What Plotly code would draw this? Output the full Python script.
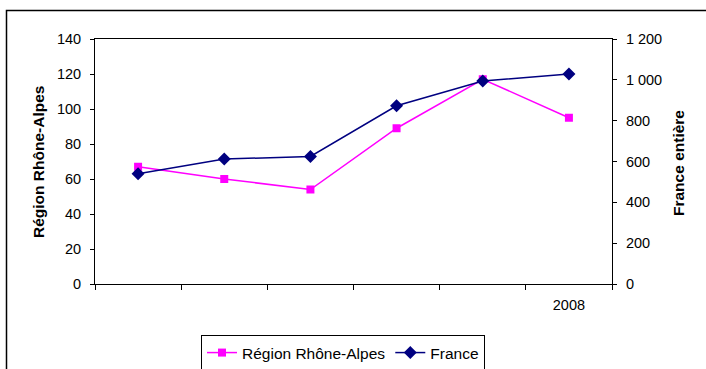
import plotly.graph_objects as go

# ---- data ----
categories = [0, 1, 2, 3, 4, 5]
category_labels = ["", "", "", "", "", "2008"]
rhone_alpes = [67, 60, 54, 89, 117, 95]
france = [540, 612, 625, 873, 994, 1028]

left_ticks = [0, 20, 40, 60, 80, 100, 120, 140]
left_tick_labels = ["0", "20", "40", "60", "80", "100", "120", "140"]
right_ticks = [0, 200, 400, 600, 800, 1000, 1200]
right_tick_labels = ["0", "200", "400", "600", "800", "1 000", "1 200"]

W, H = 706, 369
L, R, T, B = 95, 612, 39, 284  # plot area in pixels
pw, ph = R - L, B - T


def px(x):
    return (x - L) / pw


def py(y):
    return (B - y) / ph


FONT = "Liberation Sans, Arial, sans-serif"
fig = go.Figure()
fig.add_trace(go.Scatter(
    x=categories, y=rhone_alpes, name="Région Rhône-Alpes", mode="lines+markers",
    line=dict(color="#FF00FF", width=1.5),
    marker=dict(symbol="square", size=8, color="#FF00FF"),
    yaxis="y",
))
fig.add_trace(go.Scatter(
    x=categories, y=france, name="France", mode="lines+markers",
    line=dict(color="#000080", width=1.5),
    marker=dict(symbol="diamond", size=10, color="#000080"),
    yaxis="y2",
))

tickfont = dict(family=FONT, size=14.5, color="black")
fig.update_layout(
    width=W, height=H,
    margin=dict(l=L, r=W - R, t=T, b=H - B, pad=0, autoexpand=False),
    paper_bgcolor="white", plot_bgcolor="white",
    showlegend=True,
    xaxis=dict(
        range=[-0.5, 5.5], tickmode="array", tickvals=categories, ticktext=category_labels,
        ticks="", showgrid=False, zeroline=False, showline=True, linecolor="black",
        linewidth=1, mirror=True, tickfont=tickfont, ticklabelstandoff=8, automargin=False,
        minor=dict(tickmode="linear", tick0=-0.5, dtick=1, ticks="outside",
                   ticklen=5, tickcolor="black", showgrid=False),
    ),
    yaxis=dict(
        range=[0, 140], tickmode="array", tickvals=left_ticks, ticktext=left_tick_labels,
        ticks="outside", ticklen=4, tickcolor="black", showgrid=False, zeroline=False,
        showline=True, linecolor="black", linewidth=1, tickfont=tickfont,
        ticklabelstandoff=6, automargin=False,
    ),
    yaxis2=dict(
        range=[0, 1200], tickmode="array", tickvals=right_ticks, ticktext=right_tick_labels,
        overlaying="y", side="right", ticks="outside", ticklen=4, tickcolor="black",
        showgrid=False, zeroline=False, showline=True, linecolor="black", linewidth=1,
        tickfont=tickfont, ticklabelstandoff=6, automargin=False,
    ),
    legend=dict(
        orientation="h", x=px(201), y=py(335), xanchor="left", yanchor="top",
        bordercolor="black", borderwidth=1, font=dict(family=FONT, size=15.5, color="black"),
        bgcolor="white",
    ),
    annotations=[
        dict(text="<b>Région Rhône-Alpes</b>", x=px(38), y=py(162), xref="paper", yref="paper",
             textangle=-90, showarrow=False, xanchor="center", yanchor="middle",
             font=dict(family=FONT, size=15.5, color="black")),
        dict(text="<b>France entière</b>", x=px(678), y=py(163), xref="paper", yref="paper",
             textangle=-90, showarrow=False, xanchor="center", yanchor="middle",
             font=dict(family=FONT, size=15.5, color="black")),
    ],
    shapes=[
        dict(type="rect", xref="paper", yref="paper", x0=px(6.5), x1=px(740),
             y0=py(420), y1=py(10.5), line=dict(color="black", width=1.5), layer="below"),
    ],
)

fig.write_html("out.html", config={"displayModeBar": False},
               post_script="document.body.style.margin='0';")
